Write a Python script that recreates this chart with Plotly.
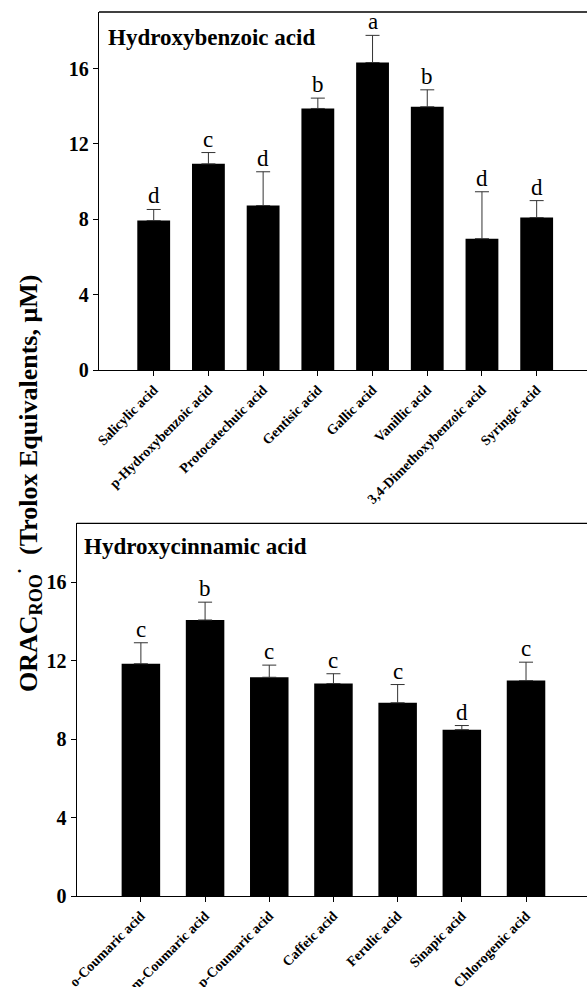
import plotly.graph_objects as go

# Hydroxybenzoic acids
hba_names = ["Salicylic acid", "p-Hydroxybenzoic acid", "Protocatechuic acid",
             "Gentisic acid", "Gallic acid", "Vanillic acid",
             "3,4-Dimethoxybenzoic acid", "Syringic acid"]
hba_mean = [7.93, 10.94, 8.73, 13.88, 16.32, 13.97, 6.97, 8.09]
hba_sd = [0.59, 0.60, 1.79, 0.55, 1.44, 0.90, 2.49, 0.90]
hba_group = ["d", "c", "d", "b", "a", "b", "d", "d"]

# Hydroxycinnamic acids
hca_names = ["o-Coumaric acid", "m-Coumaric acid", "p-Coumaric acid",
             "Caffeic acid", "Ferulic acid", "Sinapic acid", "Chlorogenic acid"]
hca_mean = [11.84, 14.07, 11.15, 10.83, 9.85, 8.48, 10.98]
hca_sd = [1.07, 0.91, 0.62, 0.50, 0.93, 0.21, 0.94]
hca_group = ["c", "b", "c", "c", "c", "d", "c"]

yticks = [0, 4, 8, 12, 16]

W, H = 587, 987
SERIF = "Liberation Serif"

fig = go.Figure()


def add_panel(names, mean, sd, groups, xa, ya):
    fig.add_trace(go.Bar(
        x=names, y=mean, xaxis=xa, yaxis=ya, width=0.6,
        marker=dict(color="black", line=dict(width=0)),
        error_y=dict(type="data", array=sd, arrayminus=[0] * len(sd),
                     symmetric=False, color="#333333", thickness=1, width=7),
        showlegend=False, hoverinfo="skip",
    ))
    for n, m, s, g in zip(names, mean, sd, groups):
        fig.add_annotation(x=n, y=m + s, xref=xa, yref=ya, text=g,
                           showarrow=False, yanchor="bottom", yshift=-1,
                           font=dict(family=SERIF, size=23, color="black"))


add_panel(hba_names, hba_mean, hba_sd, hba_group, "x", "y")
add_panel(hca_names, hca_mean, hca_sd, hca_group, "x2", "y2")

top_dom = [1 - 370 / H, 1 - 12 / H]
bot_dom = [1 - 896 / H, 1 - 523.3 / H]
x1_left = 99 / W
x2_left = 76.7 / W

axis_common = dict(showline=True, linecolor="black", linewidth=1.3,
                   ticks="outside", ticklen=5, tickcolor="black",
                   showgrid=False, zeroline=False, automargin=False)

fig.update_layout(
    width=W, height=H,
    margin=dict(l=0, r=0, t=0, b=0),
    paper_bgcolor="white", plot_bgcolor="white",
    bargap=0.4,
    xaxis=dict(domain=[x1_left, 1], anchor="y", range=[-1, 7.92],
               tickangle=-45, tickfont=dict(family=SERIF, size=14, color="black", weight="bold"),
               **axis_common),
    yaxis=dict(domain=top_dom, anchor="x", range=[0, 19], tickvals=yticks,
               tickfont=dict(family=SERIF, size=20, color="black", weight="bold"),
               **axis_common),
    xaxis2=dict(domain=[x2_left, 1], anchor="y2", range=[-1, 6.95],
                tickangle=-45, tickfont=dict(family=SERIF, size=14, color="black", weight="bold"),
                **axis_common),
    yaxis2=dict(domain=bot_dom, anchor="x2", range=[0, 19], tickvals=yticks,
                tickfont=dict(family=SERIF, size=20, color="black", weight="bold"),
                **axis_common),
)

# top frame lines of each panel
for xl, dom in ((x1_left, top_dom), (x2_left, bot_dom)):
    fig.add_shape(type="line", xref="paper", yref="paper",
                  x0=xl, x1=1, y0=dom[1], y1=dom[1],
                  line=dict(color="black", width=1.3))

# panel titles
fig.add_annotation(xref="paper", yref="paper", x=106 / W, y=1 - 23 / H,
                   xanchor="left", yanchor="top", showarrow=False,
                   text="Hydroxybenzoic acid",
                   font=dict(family=SERIF, size=23, color="black", weight="bold"))
fig.add_annotation(xref="paper", yref="paper", x=82 / W, y=1 - 532 / H,
                   xanchor="left", yanchor="top", showarrow=False,
                   text="Hydroxycinnamic acid",
                   font=dict(family=SERIF, size=23, color="black", weight="bold"))

# shared y-axis title
fig.add_annotation(xref="paper", yref="paper", x=28 / W, y=1 - 484 / H,
                   xanchor="center", yanchor="middle", showarrow=False,
                   textangle=-90,
                   text="ORAC<sub>ROO</sub><sup>·</sup>  (Trolox Equivalents, μM)",
                   font=dict(family=SERIF, size=26, color="black", weight="bold"))

fig.write_html("out.html")
